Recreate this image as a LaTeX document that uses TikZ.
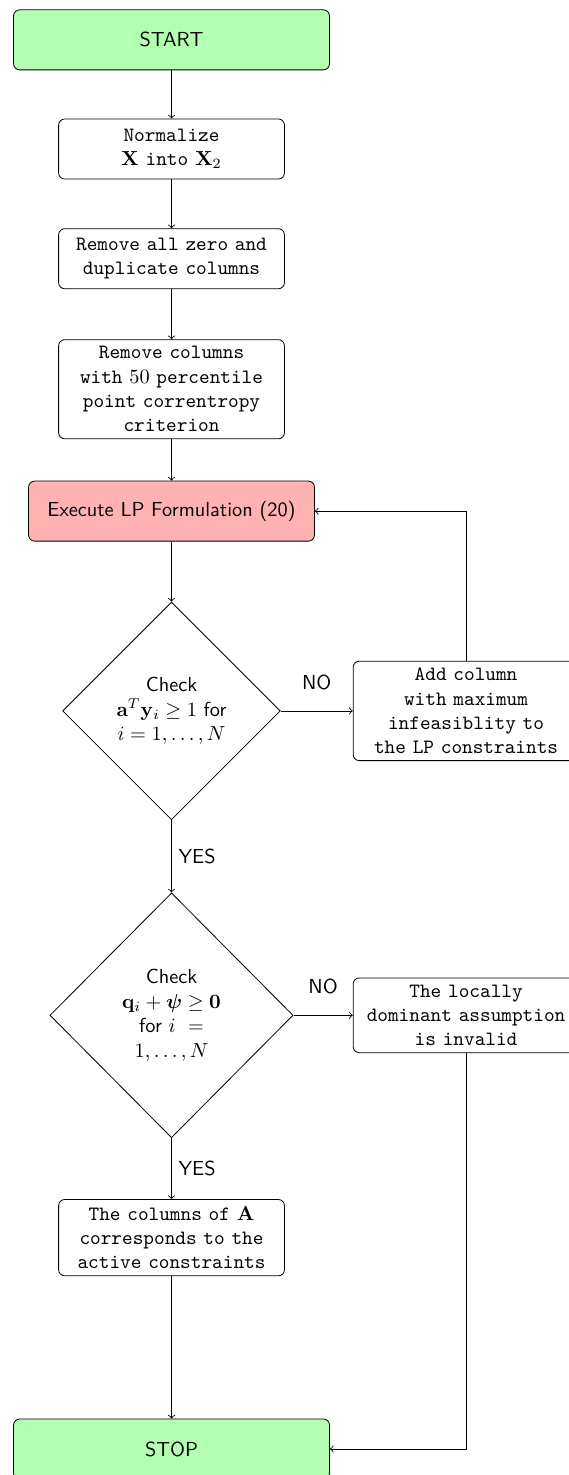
\documentclass[tikz,border=0pt]{standalone}
\usepackage{amsmath,amssymb}
\usepackage{tikz}
\usetikzlibrary{shapes.geometric}

\begin{document}
\begin{tikzpicture}[font=\sffamily,
  startstop/.style={rectangle, rounded corners=3pt, draw, fill=green!30, minimum width=5.47cm, minimum height=1.04cm},
  lpbox/.style={rectangle, rounded corners=3pt, draw, fill=red!30, minimum width=4.95cm, minimum height=1.04cm},
  process/.style={rectangle, rounded corners=3pt, draw, text width=3.6cm, minimum width=3.91cm, minimum height=1.04cm, align=center, font=\ttfamily},
  decision/.style={diamond, draw, align=center, inner sep=1pt}]
\useasboundingbox (0,0) rectangle (9.85,-25.54);
\node [startstop] (start) at (2.97,-0.69) {START};
\node [process] (norm) at (2.97,-2.58) {Normalize\\ $\mathbf{X}$ into $\mathbf{X}_2$};
\node [process] (zero) at (2.97,-4.48) {Remove all zero and\\ duplicate columns};
\node [process] (remcol) at (2.97,-6.74) {Remove columns\\ with $50$ percentile\\ point correntropy\\ criterion};
\node [lpbox] (exec) at (2.97,-8.85) {Execute LP Formulation (20)};
\node [decision, minimum width=3.77cm, minimum height=3.77cm] (check1) at (2.97,-12.31)
  {Check\\ $\mathbf{a}^T\mathbf{y}_i \geq 1$ for\\ $i = 1,\ldots,N$};
\node [process] (addcol) at (8.07,-12.31) {Add column\\ with maximum\\ infeasiblity to\\ the LP constraints};
\node [decision, minimum width=4.21cm, minimum height=4.24cm] (check2) at (2.97,-17.58)
  {Check\\ $\mathbf{q}_i + \boldsymbol{\psi} \geq \mathbf{0}$\\ for $i\ =$\\ $1,\ldots,N$};
\node [process] (invalid) at (8.07,-17.58) {The locally\\ dominant assumption\\ is invalid};
\node [process] (active) at (2.97,-21.43) {The columns of $\mathbf{A}$\\ corresponds to the\\ active constraints};
\node [startstop] (stop) at (2.97,-25.09) {STOP};
\draw [->] (start) -- (norm);
\draw [->] (norm) -- (zero);
\draw [->] (zero) -- (remcol);
\draw [->] (remcol) -- (exec);
\draw [->] (exec) -- (check1);
\draw [->] (check1) -- node [above=7pt] {NO} (addcol);
\draw [->] (addcol.north) |- (exec.east);
\draw [->] (check1) -- node [right] {YES} (check2);
\draw [->] (check2) -- node [above=7pt] {NO} (invalid);
\draw [->] (check2) -- node [right] {YES} (active);
\draw [->] (active) -- (stop);
\draw [->] (invalid.south) |- (stop.east);
\end{tikzpicture}
\end{document}
